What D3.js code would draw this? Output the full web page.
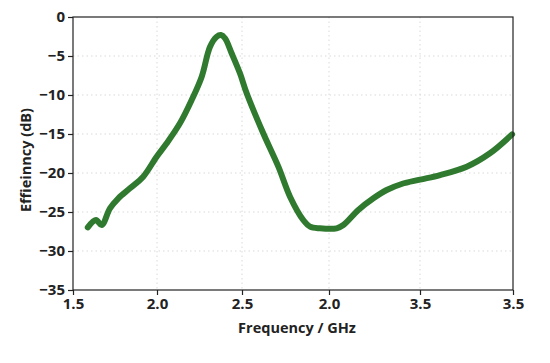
<!DOCTYPE html>
<html>
<head>
<meta charset="utf-8">
<script src="https://cdn.jsdelivr.net/npm/d3@7"></script>
<style>
  html, body { margin: 0; padding: 0; background: #fff; }
  text { font-family: "Open Sans", "DejaVu Sans", sans-serif; }
</style>
</head>
<body>
<svg id="chart" width="550" height="363"></svg>
<script>
// Data (frequency in GHz, efficiency in dB)
const freq = [1.588, 1.637, 1.671, 1.720, 1.770, 1.839, 1.918, 1.998, 2.057, 2.135, 2.204, 2.263, 2.312, 2.351, 2.376, 2.400, 2.439, 2.488, 2.527, 2.622, 2.709, 2.776, 2.852, 2.891, 2.948, 3.042, 3.079, 3.161, 3.244, 3.317, 3.399, 3.500, 3.608, 3.751, 3.876, 3.995];
const eff  = [-26.96, -26.03, -26.67, -24.53, -23.24, -21.96, -20.47, -17.91, -16.19, -13.63, -10.64, -7.65, -3.81, -2.53, -2.31, -2.73, -4.65, -7.22, -9.78, -14.91, -19.19, -23.04, -26.03, -26.88, -27.09, -27.09, -26.67, -24.74, -23.24, -22.18, -21.41, -20.85, -20.26, -19.19, -17.47, -15.05];
const xTickValues = [1.5, 2.0, 2.5, 3.0, 3.5, 4.0];
const xTickLabels = ["1.5", "2.0", "2.5", "2.0", "3.5", "3.5"];
const yTickValues = [0, -5, -10, -15, -20, -25, -30, -35];

const svg = d3.select("#chart");
const mLeft = 73, mRight = 513, mTop = 17, mBottom = 290;

// Piecewise-linear x scale (the original axis ticks are not evenly spaced)
const x = d3.scaleLinear()
  .domain(xTickValues)
  .range([73, 157, 242, 329, 420, 513]);
const y = d3.scaleLinear().domain([-35, 0]).range([mBottom, mTop]);

// Grid
const grid = svg.append("g");
grid.selectAll("line.v").data(xTickValues.slice(1, -1)).enter().append("line")
  .attr("x1", d => x(d)).attr("x2", d => x(d))
  .attr("y1", mTop).attr("y2", mBottom)
  .attr("stroke", "#d9d9d9").attr("stroke-width", 1).attr("stroke-dasharray", "1.5,3");
grid.selectAll("line.h").data(yTickValues.slice(1, -1)).enter().append("line")
  .attr("y1", d => y(d)).attr("y2", d => y(d))
  .attr("x1", mLeft).attr("x2", mRight)
  .attr("stroke", "#d9d9d9").attr("stroke-width", 1).attr("stroke-dasharray", "1.5,3");

// Line
const line = d3.line()
  .x((d, i) => x(freq[i]))
  .y((d, i) => y(eff[i]))
  .curve(d3.curveCatmullRom.alpha(0.5));
svg.append("path")
  .datum(eff)
  .attr("d", line)
  .attr("fill", "none")
  .attr("stroke", "#2f7a2f")
  .attr("stroke-width", 6)
  .attr("stroke-linecap", "round")
  .attr("stroke-linejoin", "round");

// Frame
svg.append("rect")
  .attr("x", mLeft).attr("y", mTop)
  .attr("width", mRight - mLeft).attr("height", mBottom - mTop)
  .attr("fill", "none").attr("stroke", "#222").attr("stroke-width", 1.2);

// Axes
const xAxis = d3.axisBottom(x)
  .tickValues(xTickValues)
  .tickFormat((d, i) => xTickLabels[i])
  .tickSize(5).tickPadding(3);
const gx = svg.append("g").attr("transform", `translate(0,${mBottom})`).call(xAxis);
const yAxis = d3.axisLeft(y)
  .tickValues(yTickValues)
  .tickFormat(d3.format("d"))
  .tickSize(5).tickPadding(3);
const gy = svg.append("g").attr("transform", `translate(${mLeft},0)`).call(yAxis);

[gx, gy].forEach(g => {
  g.select(".domain").remove();
  g.selectAll(".tick line").attr("stroke", "#222").attr("stroke-width", 1.2);
  g.selectAll(".tick text")
    .attr("fill", "#222")
    .style("font-family", "'Open Sans', sans-serif")
    .style("font-size", "15px")
    .style("font-weight", "700");
});

// Axis labels
svg.append("text")
  .attr("x", 297).attr("y", 333)
  .attr("text-anchor", "middle")
  .attr("fill", "#222")
  .style("font-size", "14.5px").style("font-weight", "700")
  .text("Frequency / GHz");
svg.append("text")
  .attr("transform", "translate(31,160) rotate(-90)")
  .attr("text-anchor", "middle")
  .attr("fill", "#222")
  .style("font-size", "14.5px").style("font-weight", "700")
  .text("Effieinncy (dB)");
</script>
</body>
</html>
